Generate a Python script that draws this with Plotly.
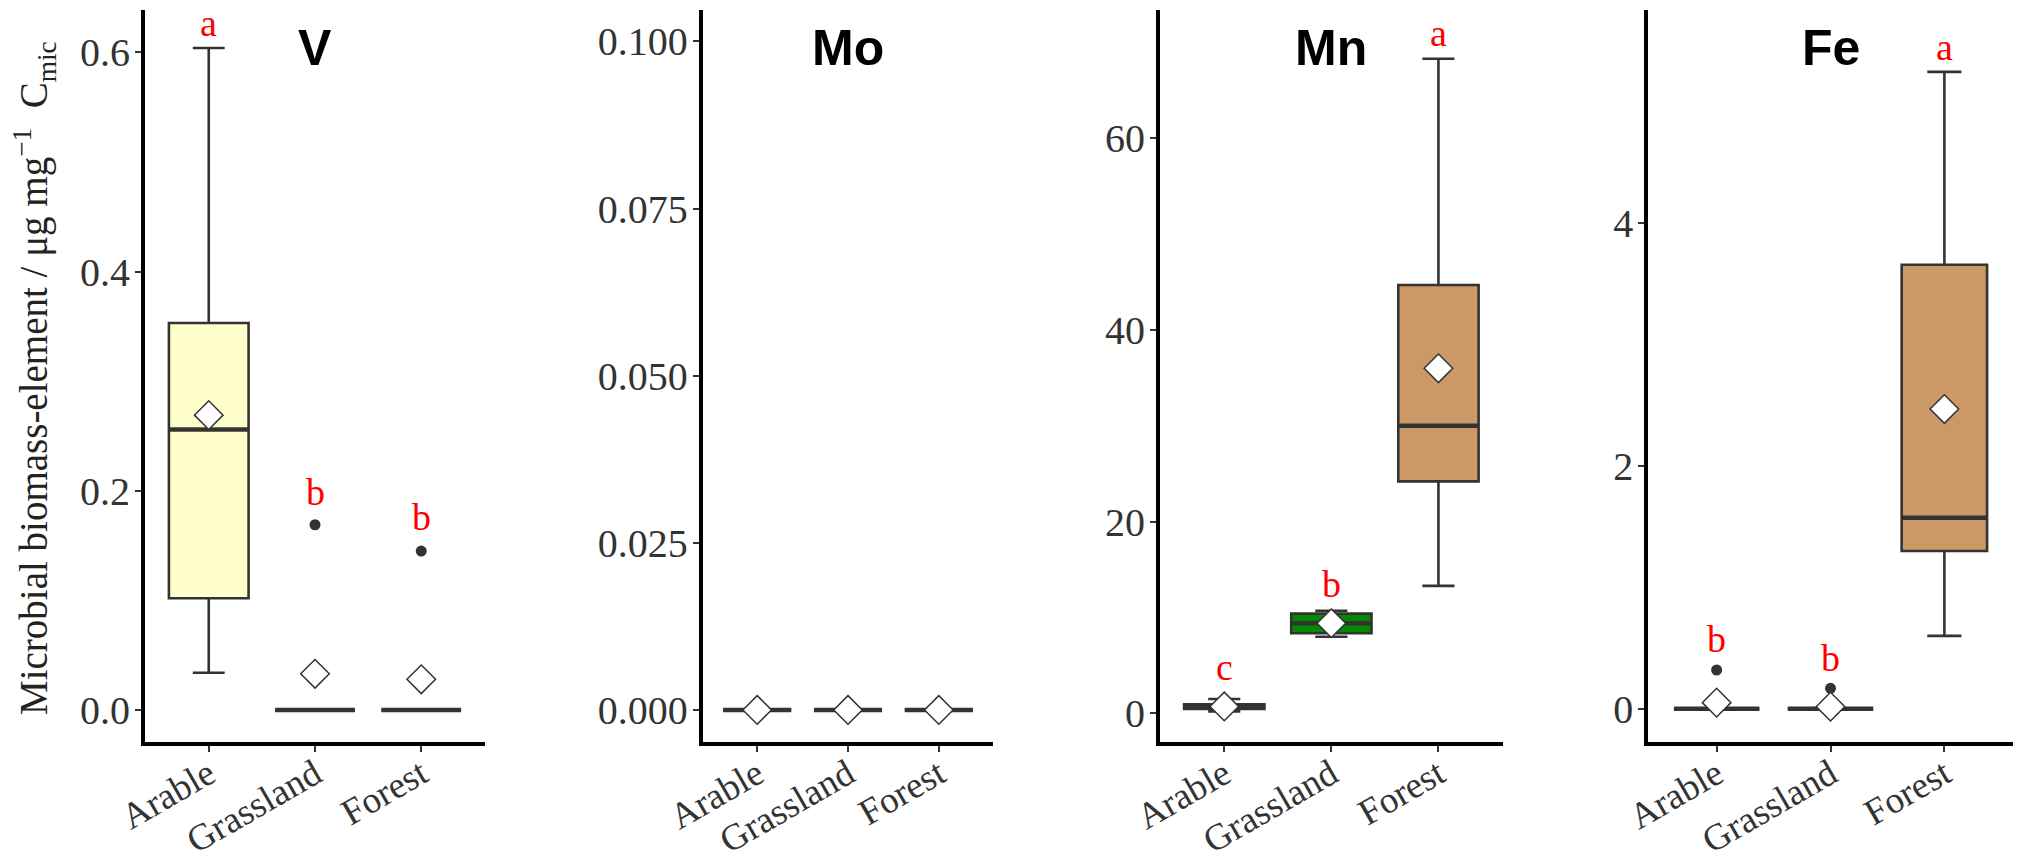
import plotly.graph_objects as go

# ---------------- data ----------------
categories = ["Arable", "Grassland", "Forest"]
elements = ["V", "Mo", "Mn", "Fe"]
box_colors = ["#FFFFCC", "#008B00", "#CC9966"]

V_q1 = [0.102, 0.0, 0.0]
V_med = [0.256, 0.0, 0.0]
V_q3 = [0.353, 0.0, 0.0]
V_lo = [0.034, 0.0, 0.0]
V_hi = [0.604, 0.0, 0.0]
V_mean = [0.269, 0.033, 0.028]
V_out = [None, 0.169, 0.145]
V_letters = ["a", "b", "b"]
V_letter_y = [0.623, 0.196, 0.173]

Mo_q1 = [0.0, 0.0, 0.0]
Mo_med = [0.0, 0.0, 0.0]
Mo_q3 = [0.0, 0.0, 0.0]
Mo_lo = [0.0, 0.0, 0.0]
Mo_hi = [0.0, 0.0, 0.0]
Mo_mean = [0.0, 0.0, 0.0]
Mo_out = [None, None, None]
Mo_letters = ["", "", ""]
Mo_letter_y = [None, None, None]

Mn_q1 = [0.45, 8.35, 24.2]
Mn_med = [0.7, 9.4, 30.0]
Mn_q3 = [0.95, 10.4, 44.7]
Mn_lo = [0.2, 8.0, 13.3]
Mn_hi = [1.5, 10.7, 68.3]
Mn_mean = [0.72, 9.4, 36.0]
Mn_out = [None, None, None]
Mn_letters = ["c", "b", "a"]
Mn_letter_y = [4.4, 13.2, 70.6]

Fe_q1 = [0.0, 0.0, 1.30]
Fe_med = [0.0, 0.0, 1.575]
Fe_q3 = [0.0, 0.0, 3.66]
Fe_lo = [0.0, 0.0, 0.60]
Fe_hi = [0.0, 0.0, 5.25]
Fe_mean = [0.05, 0.017, 2.47]
Fe_out = [0.319, 0.168, None]
Fe_letters = ["b", "b", "a"]
Fe_letter_y = [0.55, 0.39, 5.42]

V_ticks = [0.0, 0.2, 0.4, 0.6]
Mo_ticks = [0.0, 0.025, 0.05, 0.075, 0.1]
Mn_ticks = [0, 20, 40, 60]
Fe_ticks = [0, 2, 4]

y_label = "Microbial biomass-element / μg mg<sup>−1</sup>&nbsp;&nbsp;C<sub>mic</sub>"

# ---------------- layout constants (pixels) ----------------
W, H = 2024, 861
panel_x = [(145, 485), (702.7, 993.3), (1160, 1502.7), (1648.3, 2012.7)]
panel_top, panel_bottom = 10, 742
y_ranges = [(-0.0292, 0.6386), (-0.0048, 0.1047), (-2.99, 73.39), (-0.2745, 5.760)]
tick_formats = [".1f", ".3f", "d", "d"]
BOX_W = 0.75
SERIF = "Liberation Serif, Times New Roman, serif"
SANS = "Liberation Sans, Arial, sans-serif"
DARK = "#333333"

panels = [
    dict(q1=V_q1, med=V_med, q3=V_q3, lo=V_lo, hi=V_hi, mean=V_mean, out=V_out,
         letters=V_letters, letter_y=V_letter_y, ticks=V_ticks),
    dict(q1=Mo_q1, med=Mo_med, q3=Mo_q3, lo=Mo_lo, hi=Mo_hi, mean=Mo_mean, out=Mo_out,
         letters=Mo_letters, letter_y=Mo_letter_y, ticks=Mo_ticks),
    dict(q1=Mn_q1, med=Mn_med, q3=Mn_q3, lo=Mn_lo, hi=Mn_hi, mean=Mn_mean, out=Mn_out,
         letters=Mn_letters, letter_y=Mn_letter_y, ticks=Mn_ticks),
    dict(q1=Fe_q1, med=Fe_med, q3=Fe_q3, lo=Fe_lo, hi=Fe_hi, mean=Fe_mean, out=Fe_out,
         letters=Fe_letters, letter_y=Fe_letter_y, ticks=Fe_ticks),
]

fig = go.Figure()
annotations = []
layout_axes = {}
xpos = list(range(len(categories)))

for k, p in enumerate(panels):
    sfx = "" if k == 0 else str(k + 1)
    xref, yref = "x" + sfx, "y" + sfx

    # boxes
    for i, cat in enumerate(categories):
        fig.add_trace(go.Box(
            x=[xpos[i]], q1=[p["q1"][i]], median=[p["med"][i]], q3=[p["q3"][i]],
            lowerfence=[p["lo"][i]], upperfence=[p["hi"][i]],
            width=BOX_W, whiskerwidth=0.4, boxpoints=False,
            fillcolor=box_colors[i], line=dict(color=DARK, width=2.6),
            xaxis=xref, yaxis=yref, hoverinfo="skip", name=cat,
        ))
        # thicker median line (ggplot style)
        fig.add_trace(go.Scatter(
            x=[xpos[i] - BOX_W / 2, xpos[i] + BOX_W / 2],
            y=[p["med"][i], p["med"][i]], mode="lines",
            line=dict(color=DARK, width=4.5), xaxis=xref, yaxis=yref,
            hoverinfo="skip",
        ))

    # outliers
    ox = [xpos[i] for i in range(len(categories)) if p["out"][i] is not None]
    oy = [p["out"][i] for i in range(len(categories)) if p["out"][i] is not None]
    if ox:
        fig.add_trace(go.Scatter(
            x=ox, y=oy, mode="markers",
            marker=dict(color=DARK, size=11, line=dict(width=0)),
            xaxis=xref, yaxis=yref, hoverinfo="skip",
        ))

    # means
    fig.add_trace(go.Scatter(
        x=xpos, y=p["mean"], mode="markers",
        marker=dict(symbol="diamond", color="white", size=22,
                    line=dict(color=DARK, width=1.5)),
        xaxis=xref, yaxis=yref, hoverinfo="skip",
    ))

    # significance letters (x-height glyphs nudged so their visual centre sits on y)
    for i in range(len(categories)):
        letter = p["letters"][i]
        if letter:
            annotations.append(dict(
                x=xpos[i], y=p["letter_y"][i], xref=xref, yref=yref,
                text=letter, showarrow=False,
                xanchor="center", yanchor="middle",
                yshift=4 if letter in ("a", "c") else 3,
                font=dict(family=SERIF, size=38, color="#FF0000"),
            ))

    # panel titles
    annotations.append(dict(
        x=1, y=1 - 48 / H, xref=xref, yref="paper",
        text="<b>%s</b>" % elements[k], showarrow=False,
        xanchor="center", yanchor="middle",
        font=dict(family=SANS, size=50, color="black"),
    ))

    x0, x1 = panel_x[k]
    layout_axes["xaxis" + sfx] = dict(
        domain=[x0 / W, x1 / W], range=[-0.6, 2.6], anchor=yref,
        tickvals=xpos, ticktext=categories, tickangle=-30,
        showline=True, linecolor="black", linewidth=4,
        ticks="outside", ticklen=6, tickwidth=2, tickcolor=DARK,
        showgrid=False, zeroline=False, fixedrange=True, automargin=False,
        ticklabelstandoff=-14,
        tickfont=dict(family=SERIF, size=37, color=DARK),
    )
    layout_axes["yaxis" + sfx] = dict(
        domain=[1 - panel_bottom / H, 1 - panel_top / H], range=list(y_ranges[k]),
        anchor=xref, tickvals=p["ticks"], tickformat=tick_formats[k],
        showline=True, linecolor="black", linewidth=4,
        ticks="outside", ticklen=6, tickwidth=2, tickcolor=DARK,
        showgrid=False, zeroline=False, fixedrange=True, automargin=False,
        ticklabelstandoff=-3,
        tickfont=dict(family=SERIF, size=40, color=DARK),
    )

annotations.append(dict(
    x=35 / W, y=1 - 378 / H, xref="paper", yref="paper",
    text=y_label, textangle=-90, showarrow=False,
    xanchor="center", yanchor="middle",
    font=dict(family=SERIF, size=39, color="#222222"),
))

fig.update_layout(
    width=W, height=H, margin=dict(l=0, r=0, t=0, b=0, autoexpand=False),
    paper_bgcolor="white", plot_bgcolor="white",
    showlegend=False, boxmode="overlay",
    annotations=annotations, **layout_axes,
)

fig.write_html(
    "out.html",
    config={"displayModeBar": False, "staticPlot": True},
    post_script="document.body.style.margin='0';document.body.style.overflow='hidden';",
)
